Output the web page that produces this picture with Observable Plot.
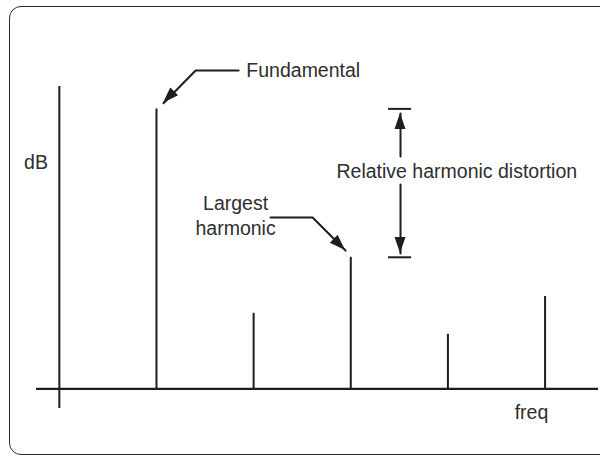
<!DOCTYPE html>
<html><head><meta charset="utf-8">
<script src="https://cdn.jsdelivr.net/npm/d3@7"></script>
<script src="https://cdn.jsdelivr.net/npm/@observablehq/plot@0.6"></script>
<style>
html,body{margin:0;padding:0;background:#fff;overflow:hidden;}
#wrap{position:relative;width:600px;height:457px;overflow:hidden;}
#frame{position:absolute;left:9px;top:6px;width:660px;height:449px;border:1.5px solid #2a2a2a;border-radius:12px;box-sizing:border-box;}
#chart{position:absolute;left:0;top:0;}
</style></head><body>
<div id="wrap"><div id="frame"></div><div id="chart"></div></div>
<script>
// Spectrum: fundamental + harmonics (freq index, level in relative dB units)
const freqs = [1, 2, 3, 4, 5];
const levels = [100, 27, 47, 19.5, 33];

// Axis labels
const axisLabels = ["dB", "freq"];
const axisLabelX = [-0.24, 4.86];
const axisLabelY = [78.4, -10.9];

// Annotation: Fundamental
const fundLabel = "Fundamental";
const fundLeaderX = [1.845, 1.403, 1.072];
const fundLeaderY = [113.7, 113.7, 102.0];

// Annotation: Largest harmonic
const largestLabel = "Largest\nharmonic";
const largestLeaderX = [2.174, 2.607, 2.946];
const largestLeaderY = [61.2, 61.2, 49.4];

// Annotation: Relative harmonic distortion
const distLabel = "Relative harmonic distortion";
const distX = 3.512;
const distCapX = [3.389, 3.626];
const distTopArrowY = [83.0, 98.4];
const distBottomArrowY = [73.0, 48.4];

const ink = "#1e1e1e";
const textInk = "#2e2e2e";

const bars = freqs.map((f, i) => ({f, level: levels[i]}));
const lab = axisLabels.map((t, i) => ({t, x: axisLabelX[i], y: axisLabelY[i]}));
const fundPts = fundLeaderX.map((x, i) => ({x, y: fundLeaderY[i]}));
const largestPts = largestLeaderX.map((x, i) => ({x, y: largestLeaderY[i]}));
const distTop = distTopArrowY.map(y => ({x: distX, y}));
const distBottom = distBottomArrowY.map(y => ({x: distX, y}));
const arrowLines = [fundPts, largestPts, distTop, distBottom];

// filled arrowheads drawn through the plot's scales
const heads = (index, scales) => {
  const ns = "http://www.w3.org/2000/svg";
  const g = document.createElementNS(ns, "g");
  for (const pts of arrowLines) {
    const a = pts[pts.length - 2], b = pts[pts.length - 1];
    const x1 = scales.x(a.x), y1 = scales.y(a.y), x2 = scales.x(b.x), y2 = scales.y(b.y);
    const dx = x2 - x1, dy = y2 - y1, len = Math.hypot(dx, dy);
    const ux = dx / len, uy = dy / len;
    const L = 16, W = 5.5;
    const bx = x2 - ux * L, by = y2 - uy * L;
    const p = document.createElementNS(ns, "path");
    p.setAttribute("d", `M${x2},${y2}L${bx - uy * W},${by + ux * W}L${bx + uy * W},${by - ux * W}Z`);
    p.setAttribute("fill", ink);
    g.appendChild(p);
  }
  return g;
};

const font = "'Liberation Sans', Arial, sans-serif";

const chart = Plot.plot({
  width: 600,
  height: 457,
  marginLeft: 36,
  marginRight: 2,
  marginTop: 86,
  marginBottom: 49,
  x: {domain: [-0.235, 5.55], axis: null},
  y: {domain: [-7, 108], axis: null},
  style: {background: "transparent", overflow: "visible"},
  marks: [
    Plot.ruleY([0], {stroke: ink, strokeWidth: 2.2}),
    Plot.ruleX([0], {stroke: ink, strokeWidth: 2}),
    Plot.ruleX(bars, {x: "f", y1: 0, y2: "level", stroke: ink, strokeWidth: 2}),
    Plot.ruleY([levels[0], levels[2]], {x1: distCapX[0], x2: distCapX[1], stroke: ink, strokeWidth: 2}),
    ...arrowLines.map(pts => Plot.line(pts, {x: "x", y: "y", stroke: ink, strokeWidth: 2, strokeLinejoin: "miter"})),
    heads,
    Plot.text(lab, {x: "x", y: "y", text: "t", textAnchor: "middle", lineAnchor: "bottom", fontFamily: font, fontSize: 19.5, fill: textInk}),
    Plot.text([fundLabel], {x: fundLeaderX[0] + 0.08, y: fundLeaderY[0] - 2.4, text: d => d, textAnchor: "start", lineAnchor: "bottom", fontFamily: font, fontSize: 19.5, fill: textInk}),
    Plot.text([largestLabel], {x: 1.814, y: 54.8, text: d => d, textAnchor: "middle", lineAnchor: "bottom", lineHeight: 1.33, fontFamily: font, fontSize: 19.5, fill: textInk}),
    Plot.text([distLabel], {x: 2.853, y: 75.4, text: d => d, textAnchor: "start", lineAnchor: "bottom", fontFamily: font, fontSize: 19.5, fill: textInk})
  ]
});
document.getElementById("chart").appendChild(chart);
</script>
</body></html>
